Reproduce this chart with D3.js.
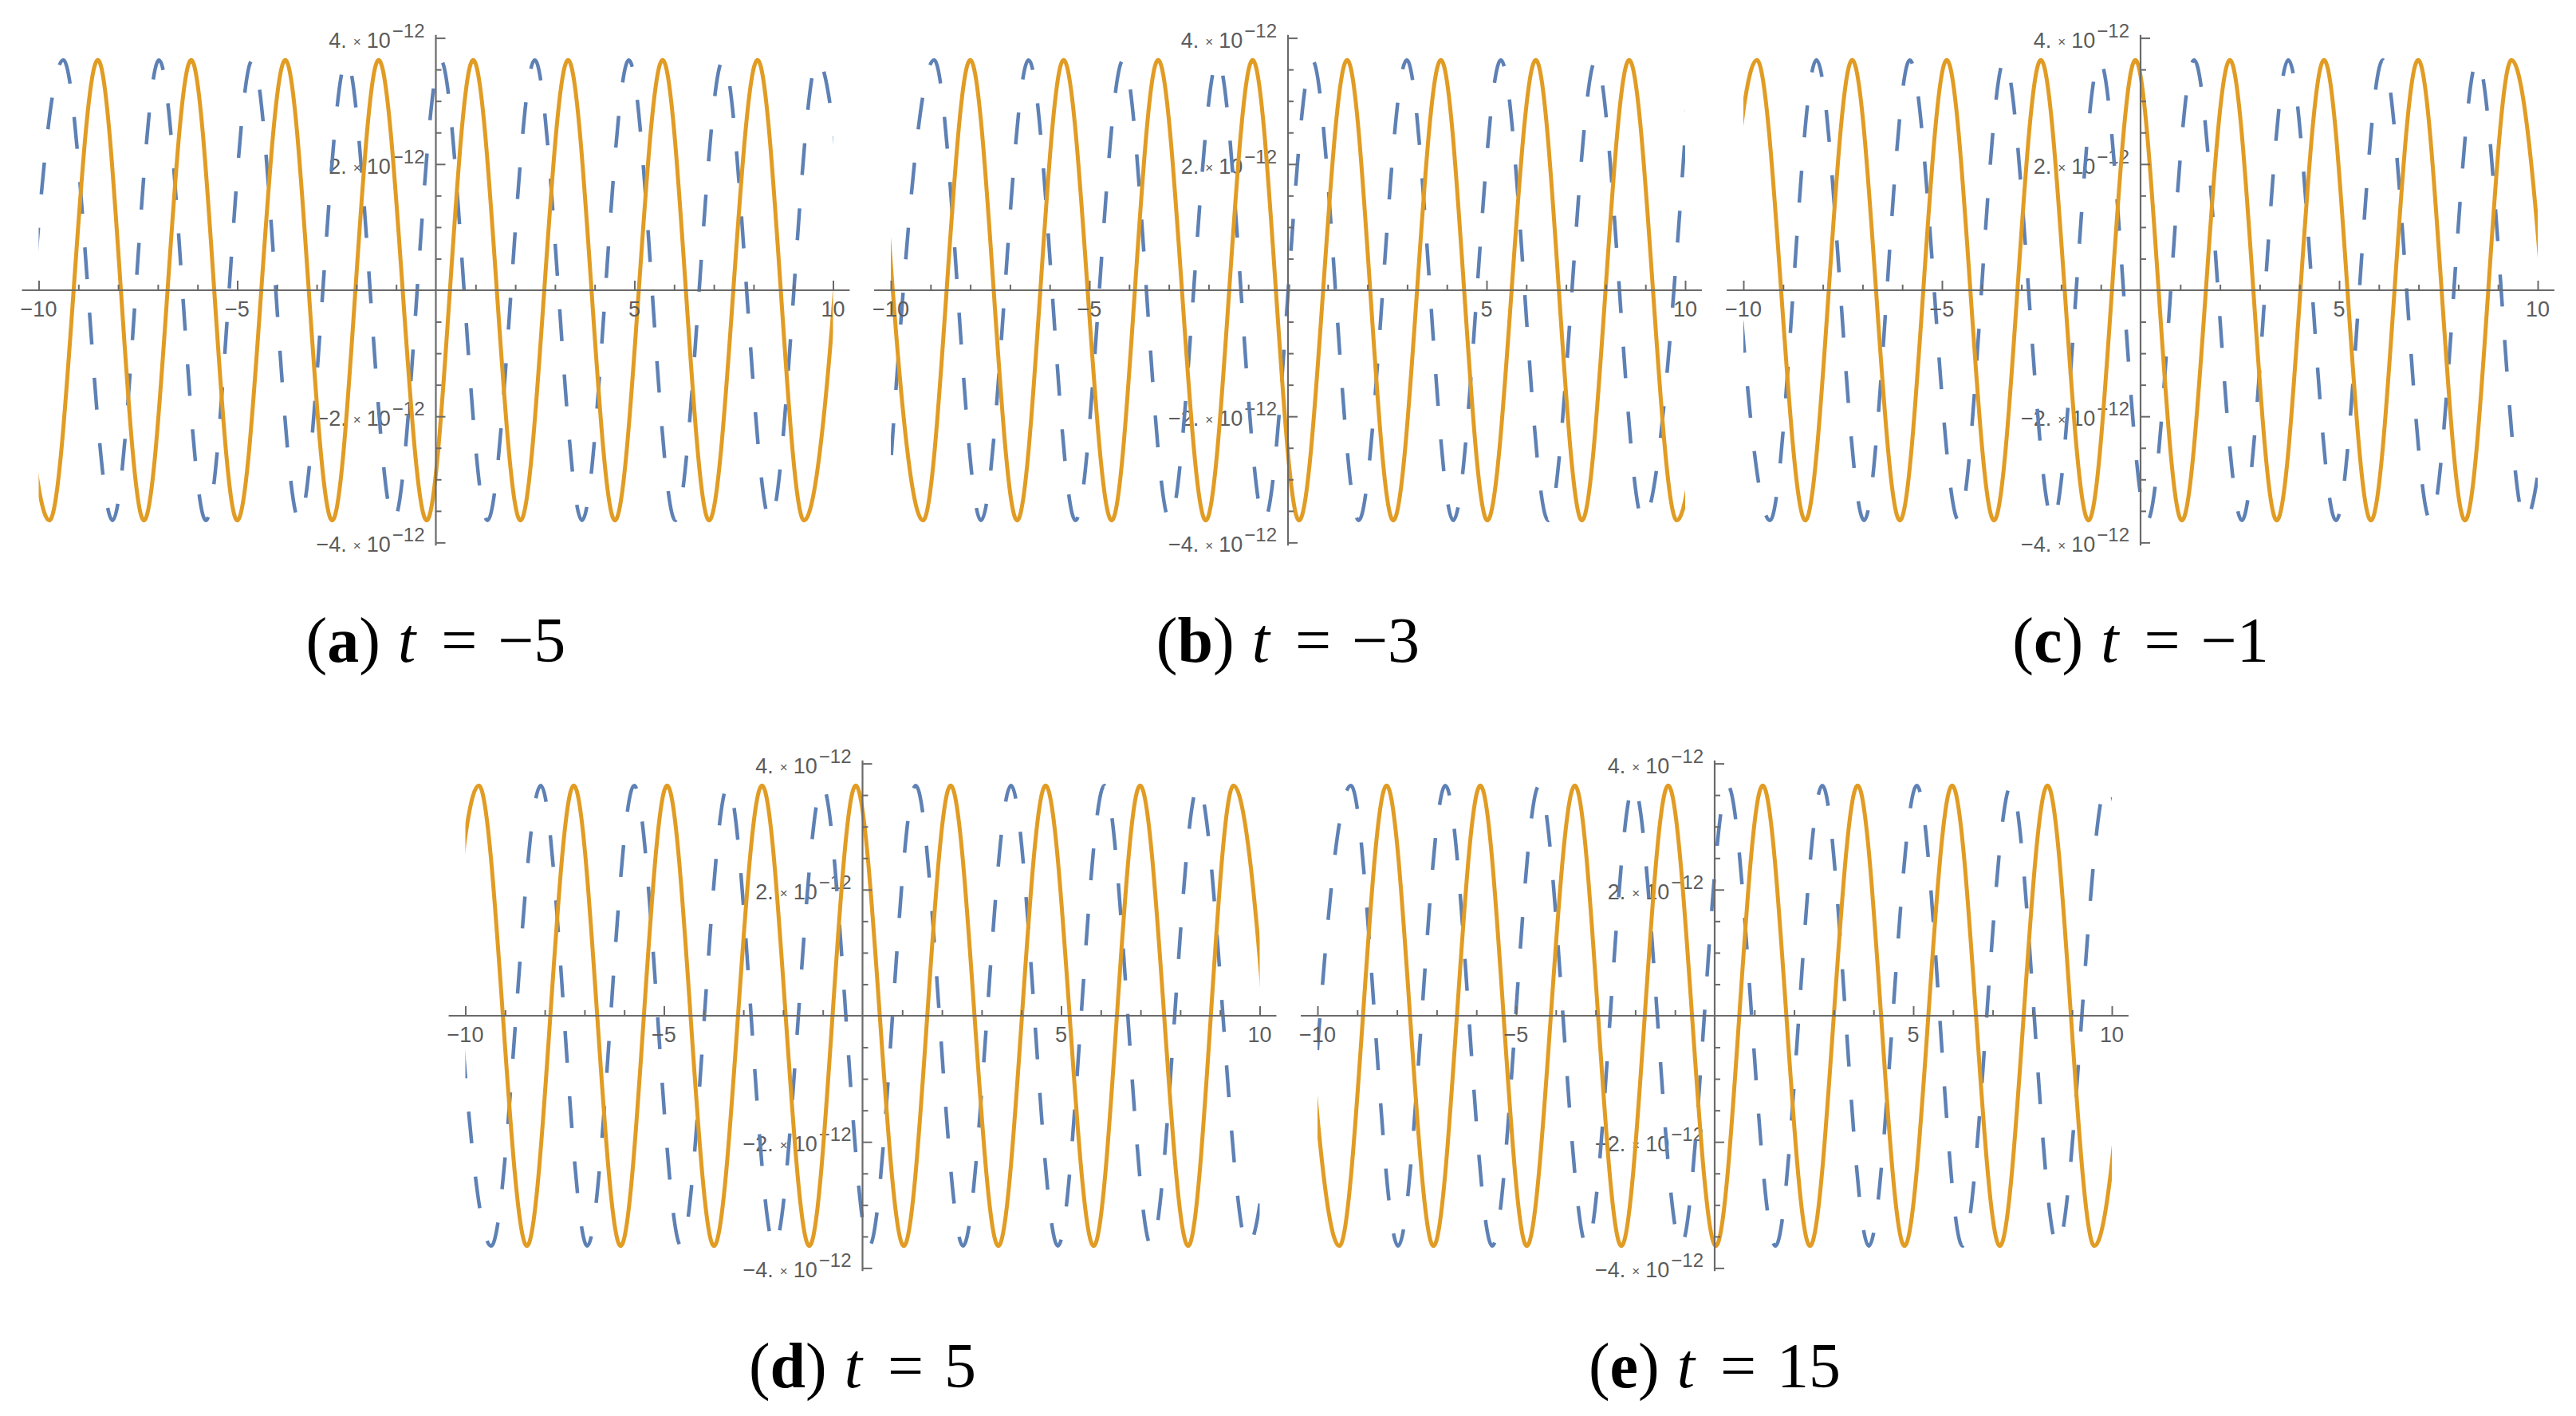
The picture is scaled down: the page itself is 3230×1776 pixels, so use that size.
<!doctype html>
<html>
<head>
<meta charset="utf-8">
<script src="https://d3js.org/d3.v7.min.js"></script>
<style>
  body { margin: 0; background: #fff; }
</style>
<title>wave panels</title>
</head>
<body>
<svg width="3230" height="1776"></svg>
<script>
// captions
var panelIds = ["a", "b", "c", "d", "e"];
var panelTimes = ["\u22125", "\u22123", "\u22121", "5", "15"];

// axis ticks
var xTickValues = [-10, -5, 5, 10];
var xTickLabels = ["\u221210", "\u22125", "5", "10"];
var yTickValues = [4, 2, -2, -4];
var yTickLabels = ["4.", "2.", "\u22122.", "\u22124."];

// extrema of each curve, [x, y in units of 1e-12]
// (one extremum beyond each end so the curve can be clipped at x = -10 and 10)
var solidA = [[-10.92,3.65],[-9.73,-3.65],[-8.51,3.65],[-7.35,-3.65],[-6.16,3.65],[-5.00,-3.65],[-3.79,3.65],[-2.61,-3.65],[-1.44,3.65],[-0.23,-3.65],[0.94,3.65],[2.13,-3.65],[3.33,3.65],[4.51,-3.65],[5.71,3.65],[6.88,-3.65],[8.10,3.65],[9.27,-3.65],[10.46,3.65]];
var solidB = [[-10.36,3.65],[-9.19,-3.65],[-8.00,3.65],[-6.82,-3.65],[-5.65,3.65],[-4.44,-3.65],[-3.27,3.65],[-2.07,-3.65],[-0.89,3.65],[0.28,-3.65],[1.49,3.65],[2.65,-3.65],[3.85,3.65],[5.02,-3.65],[6.24,3.65],[7.40,-3.65],[8.59,3.65],[9.79,-3.65],[10.98,3.65]];
var solidC = [[-10.85,-3.65],[-9.66,3.65],[-8.44,-3.65],[-7.26,3.65],[-6.06,-3.65],[-4.88,3.65],[-3.69,-3.65],[-2.51,3.65],[-1.31,-3.65],[-0.13,3.65],[1.04,-3.65],[2.25,3.65],[3.43,-3.65],[4.62,3.65],[5.80,-3.65],[6.99,3.65],[8.17,-3.65],[9.34,3.65],[10.53,-3.65]];
var solidD = [[-10.85,-3.65],[-9.66,3.65],[-8.45,-3.65],[-7.27,3.65],[-6.09,-3.65],[-4.92,3.65],[-3.74,-3.65],[-2.53,3.65],[-1.34,-3.65],[-0.17,3.65],[1.04,-3.65],[2.22,3.65],[3.42,-3.65],[4.61,3.65],[5.82,-3.65],[6.99,3.65],[8.20,-3.65],[9.34,3.65],[10.53,-3.65]];
var solidE = [[-10.62,3.65],[-9.45,-3.65],[-8.26,3.65],[-7.08,-3.65],[-5.90,3.65],[-4.73,-3.65],[-3.52,3.65],[-2.35,-3.65],[-1.17,3.65],[0.03,-3.65],[1.21,3.65],[2.40,-3.65],[3.60,3.65],[4.78,-3.65],[5.98,3.65],[7.18,-3.65],[8.38,3.65],[9.56,-3.65],[10.75,3.65]];

var dashA = [[-10.53,-3.65],[-9.38,3.65],[-8.14,-3.65],[-6.97,3.65],[-5.79,-3.65],[-4.62,3.65],[-3.44,-3.65],[-2.25,3.65],[-1.06,-3.65],[0.12,3.65],[1.30,-3.65],[2.49,3.65],[3.68,-3.65],[4.86,3.65],[6.03,-3.65],[7.23,3.65],[8.42,-3.65],[9.61,3.65],[10.80,-3.65]];
var dashB = [[-10.10,-3.65],[-8.91,3.65],[-7.73,-3.65],[-6.53,3.65],[-5.35,-3.65],[-4.15,3.65],[-2.98,-3.65],[-1.77,3.65],[-0.60,-3.65],[0.61,3.65],[1.78,-3.65],[2.99,3.65],[4.16,-3.65],[5.36,3.65],[6.55,-3.65],[7.75,3.65],[8.94,-3.65],[10.13,3.65]];
var dashC = [[-10.51,3.65],[-9.33,-3.65],[-8.16,3.65],[-6.96,-3.65],[-5.81,3.65],[-4.58,-3.65],[-3.43,3.65],[-2.21,-3.65],[-1.03,3.65],[0.17,-3.65],[1.35,3.65],[2.55,-3.65],[3.72,3.65],[4.92,-3.65],[6.10,3.65],[7.30,-3.65],[8.48,3.65],[9.68,-3.65],[10.87,3.65]];
var dashD = [[-10.53,3.65],[-9.35,-3.65],[-8.10,3.65],[-6.93,-3.65],[-5.75,3.65],[-4.57,-3.65],[-3.39,3.65],[-2.22,-3.65],[-1.01,3.65],[0.17,-3.65],[1.34,3.65],[2.53,-3.65],[3.74,3.65],[4.92,-3.65],[6.09,3.65],[7.27,-3.65],[8.45,3.65],[9.70,-3.65],[10.88,3.65]];
var dashE = [[-10.35,-3.65],[-9.16,3.65],[-7.97,-3.65],[-6.78,3.65],[-5.60,-3.65],[-4.42,3.65],[-3.22,-3.65],[-2.04,3.65],[-0.85,-3.65],[0.33,3.65],[1.53,-3.65],[2.71,3.65],[3.88,-3.65],[5.09,3.65],[6.24,-3.65],[7.46,3.65],[8.63,-3.65],[9.86,3.65],[11.05,-3.65]];

var solids = [solidA, solidB, solidC, solidD, solidE];
var dashes = [dashA, dashB, dashC, dashD, dashE];

// layout
var lefts = [48.5, 1117, 2186, 583.5, 1652];
var zeros = [364, 364, 364, 1274, 1274];
var plotW = 996, unitY = 79.1;
var axisColor = "#6a6a6a", labelColor = "#5c5c5c";
var blue = "#5e81b5", orange = "#e19c24";

var svg = d3.select("svg");
svg.append("rect").attr("width", 3230).attr("height", 1776).attr("fill", "#fff");

panelIds.forEach(function(id, i) {
    var x = d3.scaleLinear().domain([-10, 10]).range([lefts[i], lefts[i] + plotW]);
    var y = d3.scaleLinear().domain([-4, 4]).range([zeros[i] + 4 * unitY, zeros[i] - 4 * unitY]);
    var g = svg.append("g").attr("class", "panel-" + id);
    var x0 = x(0), y0 = y(0);

    // y tick labels (under the curves)
    yTickValues.forEach(function(v, k) {
        var t = g.append("text")
            .attr("x", x0 - 14)
            .attr("y", y(v) + 12)
            .attr("text-anchor", "end")
            .attr("font-family", "Liberation Sans, Arial, sans-serif")
            .attr("font-size", 27)
            .attr("fill", labelColor);
        t.append("tspan").text(yTickLabels[k]);
        t.append("tspan").attr("dx", 8).attr("font-size", 17).attr("dy", -2).text("\u00d7");
        t.append("tspan").attr("dx", 7).attr("dy", 2).text("10");
        t.append("tspan").attr("dx", 2).attr("dy", -13).attr("font-size", 24).text("\u221212");
    });

    // curves clipped to -10..10
    g.append("clipPath").attr("id", "clip-" + id)
        .append("rect")
        .attr("x", x(-10)).attr("y", y(4.6))
        .attr("width", x(10) - x(-10)).attr("height", y(-4.6) - y(4.6));

    var line = d3.line()
        .x(function(d) { return x(d[0]); })
        .y(function(d) { return y(d[1]); })
        .curve(d3.curveMonotoneX);

    g.append("path")
        .datum(dashes[i])
        .attr("clip-path", "url(#clip-" + id + ")")
        .attr("fill", "none")
        .attr("stroke", blue)
        .attr("stroke-width", 4.5)
        .attr("stroke-dasharray", "40 42")
        .attr("d", line);

    g.append("path")
        .datum(solids[i])
        .attr("clip-path", "url(#clip-" + id + ")")
        .attr("fill", "none")
        .attr("stroke", orange)
        .attr("stroke-width", 5)
        .attr("d", line);

    // axes
    g.append("line")
        .attr("x1", x(-10.42)).attr("x2", x(10.42))
        .attr("y1", y0).attr("y2", y0)
        .attr("stroke", axisColor).attr("stroke-width", 2.2);
    g.append("line")
        .attr("x1", x0).attr("x2", x0)
        .attr("y1", y(4.05)).attr("y2", y(-4.05))
        .attr("stroke", axisColor).attr("stroke-width", 2.2);

    var xMinor = d3.range(-10, 11).filter(function(v) { return v % 5 !== 0; });
    var yMinor = d3.range(-8, 9).map(function(v) { return v / 2; })
        .filter(function(v) { return v !== 0 && v % 2 !== 0; });

    function styleAxis(sel) {
        sel.select(".domain").remove();
        sel.selectAll("line").attr("stroke", axisColor).attr("stroke-width", 2);
    }

    g.append("g").attr("transform", "translate(0," + y0 + ")")
        .call(d3.axisTop(x).tickValues(xMinor).tickSize(7).tickFormat(""))
        .call(styleAxis);
    g.append("g").attr("transform", "translate(0," + y0 + ")")
        .call(d3.axisTop(x).tickValues(xTickValues).tickSize(12).tickFormat(""))
        .call(styleAxis);
    g.append("g").attr("transform", "translate(" + x0 + ",0)")
        .call(d3.axisRight(y).tickValues(yMinor).tickSize(7).tickFormat(""))
        .call(styleAxis);
    g.append("g").attr("transform", "translate(" + x0 + ",0)")
        .call(d3.axisRight(y).tickValues(yTickValues).tickSize(12).tickFormat(""))
        .call(styleAxis);

    // x tick labels
    g.selectAll(".xlab")
        .data(xTickValues)
        .enter().append("text")
        .attr("x", function(d) { return x(d); })
        .attr("y", y0 + 33)
        .attr("text-anchor", "middle")
        .attr("font-family", "Liberation Sans, Arial, sans-serif")
        .attr("font-size", 27)
        .attr("fill", labelColor)
        .text(function(d, k) { return xTickLabels[k]; });

    // caption
    var cap = svg.append("text")
        .attr("x", x0)
        .attr("y", y0 + 466)
        .attr("text-anchor", "middle")
        .attr("font-family", "Liberation Serif, Times New Roman, serif")
        .attr("font-size", 80)
        .attr("fill", "#000");
    cap.append("tspan").text("(");
    cap.append("tspan").attr("font-weight", "bold").text(id);
    cap.append("tspan").text(")");
    cap.append("tspan").attr("dx", 22).attr("font-style", "italic").text("t");
    cap.append("tspan").attr("dx", 32).text("=");
    cap.append("tspan").attr("dx", 26).text(panelTimes[i]);
});
</script>
</body>
</html>
